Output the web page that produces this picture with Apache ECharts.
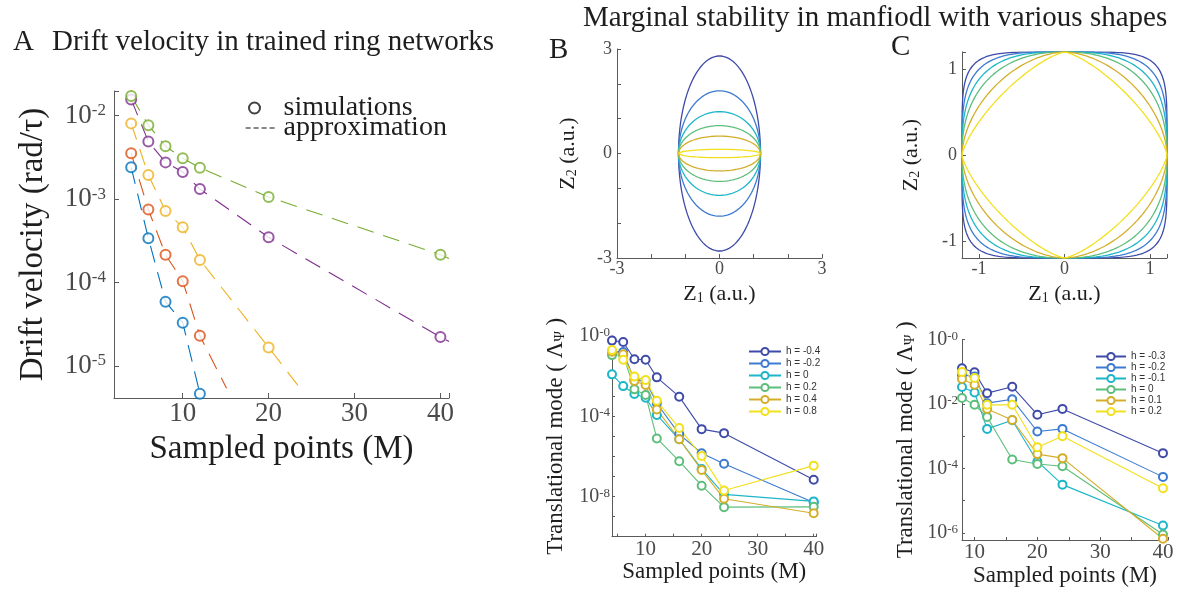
<!DOCTYPE html>
<html>
<head>
<meta charset="utf-8">
<script src="https://cdn.jsdelivr.net/npm/echarts@6/dist/echarts.min.js"></script>
<style>
  html, body { margin: 0; padding: 0; background: #ffffff; }
  #c { width: 1179px; height: 594px; }
</style>
</head>
<body>
<div id="c"></div>
<script>
// ---------- Panel A: drift velocity in trained ring networks ----------
const simM = [4, 6, 8, 10, 12, 20, 40];
const driftBlue   = [2.41e-3, 3.4e-4, 5.9e-5, 3.3e-5, 4.65e-6];
const driftOrange = [3.54e-3, 7.5e-4, 2.16e-4, 1.04e-4, 2.3e-5];
const driftYellow = [8.1e-3, 1.95e-3, 7.2e-4, 4.6e-4, 1.87e-4, 1.67e-5];
const driftPurple = [1.57e-2, 4.9e-3, 2.76e-3, 2.12e-3, 1.32e-3, 3.49e-4, 2.22e-5];
const driftGreen  = [1.72e-2, 7.7e-3, 4.3e-3, 3.1e-3, 2.38e-3, 1.06e-3, 2.16e-4];
// where each approximation curve is carried past the last simulation
const approxEndM = [null, 15.1, 23.8, 41, 41];
const approxEndV = [null, 5.4e-6, 5.2e-6, 1.96e-5, 1.94e-4];

// ---------- Panel B (top): ellipses, semi-axes per h ----------
const ellipseX = 1.2;
const ellipseY = [2.8, 1.8, 1.2, 0.8, 0.5, 0.12];
// ---------- Panel C (top): superellipses, radius and exponent per h ----------
const squircleR = 1.2;
const squircleP = [5.5, 3.8, 2.9, 2.3, 1.75, 1.35];

// ---------- Panel B (bottom): translational mode ----------
const modeM_B = [4, 6, 8, 10, 12, 16, 20, 24, 40];
const hLabelsB = ['h = -0.4', 'h = -0.2', 'h = 0', 'h = 0.2', 'h = 0.4', 'h = 0.8'];
const modeB = [
  [0.589, 0.50, 6.9e-2, 6.6e-2, 8.7e-3, 9.5e-4, 2.3e-5, 1.45e-5, 6.9e-8],
  [0.166, 0.158, 6.5e-3, 5.8e-3, 4.5e-4, 1.3e-5, 1.45e-6, 4.3e-7, 5.1e-9],
  [1.23e-2, 3.2e-3, 1.29e-3, 8.5e-4, 1.17e-4, 7.2e-6, 2.4e-7, 1.3e-8, 5.8e-9],
  [0.112, 0.112, 2.2e-3, 1.15e-3, 7.9e-6, 5.8e-7, 3.5e-8, 3.0e-9, 3.1e-9],
  [0.166, 0.123, 5.8e-3, 3.6e-3, 2.2e-4, 7.2e-6, 2.1e-7, 7.8e-9, 1.5e-9],
  [0.20, 6.5e-2, 9.5e-3, 6.5e-3, 5.9e-4, 2.6e-5, 1.07e-6, 2.0e-8, 3.5e-7]
];

// ---------- Panel C (bottom): translational mode ----------
const modeM_C = [8, 10, 12, 16, 20, 24, 40];
const hLabelsC = ['h = -0.3', 'h = -0.2', 'h = -0.1', 'h = 0', 'h = 0.1', 'h = 0.2'];
const modeC = [
  [0.129, 0.098, 2.19e-2, 3.47e-2, 4.7e-3, 7.1e-3, 3.0e-4],
  [8.1e-2, 7.2e-2, 1.07e-2, 1.41e-2, 1.41e-3, 1.7e-3, 5.5e-5],
  [3.4e-2, 2.29e-2, 1.7e-3, 3.16e-3, 1.66e-4, 3.16e-5, 1.7e-6],
  [1.55e-2, 9.5e-3, 3.98e-3, 1.9e-4, 1.38e-4, 1.17e-4, 8.9e-7],
  [6.0e-2, 4.0e-2, 7.1e-3, 3.2e-3, 2.8e-4, 2.1e-4, 6.6e-7],
  [0.100, 6.5e-2, 9.5e-3, 9.5e-3, 4.6e-4, 1.0e-3, 2.45e-5]
];

// ---------- styling ----------
const SERIF = "'Liberation Serif', 'Times New Roman', serif";
const SANS = "'Liberation Sans', Arial, sans-serif";
const INK = '#1e1e1e';
const TICK = '#4a4a4a';
const AXIS = '#5a5a5a';
const lineColors = ['#0072BD', '#D95319', '#EDB120', '#7E2F8E', '#77AC30'];
const hColors = ['#3F4BA8', '#3C7BD0', '#1DB5C8', '#5DBE7C', '#D4AE2A', '#F2E01C'];

function pairs(xs, ys) { return ys.map((v, i) => [xs[i], v]); }

function powerLabel(step) {
  return function (v) {
    const e = Math.log10(v), r = Math.round(e);
    if (Math.abs(e - r) > 1e-6 || r % step !== 0) return '';
    return '{b|10}{s|' + (r === 0 ? '-0' : String(r)) + '}';
  };
}
function powerRich(big, small) {
  return {
    b: { fontSize: big, fontFamily: SERIF, color: TICK },
    s: { fontSize: small, fontFamily: SERIF, color: TICK, verticalAlign: 'top', padding: [0, 0, Math.round(big * 0.35), 0] }
  };
}
function everyLabel(mult) {
  return v => (Math.abs(v / mult - Math.round(v / mult)) < 1e-9 ? String(Math.round(v)) : '');
}
const axisLineStyle = { show: true, onZero: false, lineStyle: { color: AXIS, width: 1 } };
function ticks(len) { return { show: true, inside: true, length: len, lineStyle: { color: AXIS, width: 1 } }; }

function ellipsePts(a, b) {
  const pts = [];
  for (let k = 0; k <= 240; k++) {
    const t = k / 240 * 2 * Math.PI;
    pts.push([a * Math.cos(t), b * Math.sin(t)]);
  }
  return pts;
}
function squirclePts(r, p) {
  const pts = [];
  for (let k = 0; k <= 480; k++) {
    const t = k / 480 * 2 * Math.PI;
    const c = Math.cos(t), s = Math.sin(t);
    pts.push([r * Math.sign(c) * Math.pow(Math.abs(c), 2 / p), r * Math.sign(s) * Math.pow(Math.abs(s), 2 / p)]);
  }
  return pts;
}

const series = [];

// Panel A: approximations (dashed) then simulations (open circles)
const driftSets = [driftBlue, driftOrange, driftYellow, driftPurple, driftGreen];
driftSets.forEach((vals, i) => {
  const data = pairs(simM, vals);
  if (approxEndM[i] !== null) data.push([approxEndM[i], approxEndV[i]]);
  series.push({
    type: 'line', xAxisIndex: 0, yAxisIndex: 0, data: data, showSymbol: false, symbol: 'none',
    lineStyle: { color: lineColors[i], width: 1.1, type: [17, 10] }, silent: true, z: 2
  });
});
driftSets.forEach((vals, i) => {
  series.push({
    type: 'scatter', xAxisIndex: 0, yAxisIndex: 0, data: pairs(simM, vals),
    symbol: 'emptyCircle', symbolSize: 10,
    itemStyle: { color: lineColors[i], borderColor: lineColors[i], borderWidth: 2 }, z: 3
  });
});
// legend entries for panel A
series.push({ name: 'simulations', type: 'scatter', xAxisIndex: 0, yAxisIndex: 0, data: [],
  symbol: 'emptyCircle', itemStyle: { color: '#111', borderColor: '#111', borderWidth: 1.5 } });
series.push({ name: 'approximation', type: 'line', xAxisIndex: 0, yAxisIndex: 0, data: [], symbol: 'none',
  lineStyle: { color: '#111', width: 1.2, type: [5, 3] }, itemStyle: { color: '#111' } });

// Panel B top: ellipses
ellipseY.forEach((b, i) => {
  series.push({ type: 'line', xAxisIndex: 1, yAxisIndex: 1, data: ellipsePts(ellipseX, b),
    showSymbol: false, symbol: 'none', lineStyle: { color: hColors[i], width: 1.3 }, silent: true });
});
// Panel C top: superellipses
squircleP.forEach((p, i) => {
  series.push({ type: 'line', xAxisIndex: 2, yAxisIndex: 2, data: squirclePts(squircleR, p),
    showSymbol: false, symbol: 'none', lineStyle: { color: hColors[i], width: 1.3 }, silent: true });
});
// Panel B bottom
modeB.forEach((vals, i) => {
  series.push({ name: 'B ' + hLabelsB[i], type: 'line', xAxisIndex: 3, yAxisIndex: 3, data: pairs(modeM_B, vals),
    symbol: 'emptyCircle', symbolSize: 8, showSymbol: true,
    lineStyle: { color: hColors[i], width: 1.1 },
    itemStyle: { color: hColors[i], borderColor: hColors[i], borderWidth: 1.8 } });
});
// Panel C bottom
modeC.forEach((vals, i) => {
  series.push({ name: 'C ' + hLabelsC[i], type: 'line', xAxisIndex: 4, yAxisIndex: 4, data: pairs(modeM_C, vals),
    symbol: 'emptyCircle', symbolSize: 8, showSymbol: true,
    lineStyle: { color: hColors[i], width: 1.1 },
    itemStyle: { color: hColors[i], borderColor: hColors[i], borderWidth: 1.8 } });
});

const zRich = {
  m: { fontSize: 22, fontFamily: SERIF, color: INK },
  sub: { fontSize: 14, fontFamily: SERIF, color: INK, verticalAlign: 'bottom', padding: [8, 0, 0, 0] }
};
const modeRich = {
  m: { fontSize: 23, fontFamily: SERIF, color: INK },
  sub: { fontSize: 14, fontFamily: SERIF, color: INK, verticalAlign: 'bottom', padding: [8, 0, 0, 0] }
};

const option = {
  animation: false,
  backgroundColor: '#ffffff',
  grid: [
    { left: 114, top: 91, width: 335, height: 307 },
    { left: 617, top: 49, width: 205, height: 209 },
    { left: 962, top: 52, width: 205, height: 206 },
    { left: 612, top: 336, width: 204.5, height: 200.7 },
    { left: 962, top: 339.7, width: 206, height: 200.3 }
  ],
  xAxis: [
    { gridIndex: 0, type: 'value', min: 2, max: 41, minInterval: 10, maxInterval: 10,
      axisLine: axisLineStyle, axisTick: ticks(5), splitLine: { show: false },
      axisLabel: { formatter: everyLabel(10), fontSize: 27, fontFamily: SERIF, color: TICK, margin: 2 },
      name: 'Sampled points (M)', nameLocation: 'middle', nameGap: 35,
      nameTextStyle: { fontSize: 33, fontFamily: SERIF, color: INK } },
    { gridIndex: 1, type: 'value', min: -3, max: 3, interval: 1,
      axisLine: axisLineStyle, axisTick: ticks(4), splitLine: { show: false },
      axisLabel: { formatter: v => (v === -3 || v === 0 || v === 3 ? String(v) : ''), fontSize: 18, fontFamily: SERIF, color: TICK, margin: 2 },
      name: '{m|Z}{sub|1}{m| (a.u.)}', nameLocation: 'middle', nameGap: 25, nameTextStyle: { rich: zRich } },
    { gridIndex: 2, type: 'value', min: -1.2, max: 1.2, minInterval: 1, maxInterval: 1,
      axisLine: axisLineStyle, axisTick: ticks(4), splitLine: { show: false },
      axisLabel: { formatter: everyLabel(1), fontSize: 18, fontFamily: SERIF, color: TICK, margin: 2 },
      name: '{m|Z}{sub|1}{m| (a.u.)}', nameLocation: 'middle', nameGap: 25, nameTextStyle: { rich: zRich } },
    { gridIndex: 3, type: 'value', min: 4, max: 40.5, minInterval: 5, maxInterval: 5,
      axisLine: axisLineStyle, axisTick: ticks(3), splitLine: { show: false },
      axisLabel: { formatter: everyLabel(10), fontSize: 21, fontFamily: SERIF, color: TICK, margin: 2 },
      name: 'Sampled points (M)', nameLocation: 'middle', nameGap: 24,
      nameTextStyle: { fontSize: 23, fontFamily: SERIF, color: INK } },
    { gridIndex: 4, type: 'value', min: 8, max: 40.8, minInterval: 5, maxInterval: 5,
      axisLine: axisLineStyle, axisTick: ticks(3), splitLine: { show: false },
      axisLabel: { formatter: everyLabel(10), fontSize: 21, fontFamily: SERIF, color: TICK, margin: 2 },
      name: 'Sampled points (M)', nameLocation: 'middle', nameGap: 24,
      nameTextStyle: { fontSize: 23, fontFamily: SERIF, color: INK } }
  ],
  yAxis: [
    { gridIndex: 0, type: 'log', logBase: 10, min: 4.13e-6, max: 0.0198,
      axisLine: axisLineStyle, axisTick: ticks(5), splitLine: { show: false },
      axisLabel: { formatter: powerLabel(1), rich: powerRich(27, 17), margin: 8 },
      name: 'Drift velocity (rad/τ)', nameLocation: 'middle', nameGap: 64,
      nameTextStyle: { fontSize: 33, fontFamily: SERIF, color: INK } },
    { gridIndex: 1, type: 'value', min: -3, max: 3, interval: 1,
      axisLine: axisLineStyle, axisTick: ticks(4), splitLine: { show: false },
      axisLabel: { formatter: v => (v === -3 || v === 0 || v === 3 ? String(v) : ''), fontSize: 18, fontFamily: SERIF, color: TICK, margin: 5 },
      name: '{m|Z}{sub|2}{m| (a.u.)}', nameLocation: 'middle', nameGap: 38, nameTextStyle: { rich: zRich } },
    { gridIndex: 2, type: 'value', min: -1.2, max: 1.2, minInterval: 1, maxInterval: 1,
      axisLine: axisLineStyle, axisTick: ticks(4), splitLine: { show: false },
      axisLabel: { formatter: everyLabel(1), fontSize: 18, fontFamily: SERIF, color: TICK, margin: 5 },
      name: '{m|Z}{sub|2}{m| (a.u.)}', nameLocation: 'middle', nameGap: 40, nameTextStyle: { rich: zRich } },
    { gridIndex: 3, type: 'log', logBase: 10, min: 1.01e-10, max: 1, splitNumber: 10,
      axisLine: axisLineStyle, axisTick: ticks(3), splitLine: { show: false },
      axisLabel: { formatter: powerLabel(4), rich: powerRich(20, 13), margin: 2 },
      name: '{m|Translational mode ( Λ}{sub|Ψ}{m| )}', nameLocation: 'middle', nameGap: 45,
      nameTextStyle: { rich: modeRich } },
    { gridIndex: 4, type: 'log', logBase: 10, min: 6.03e-7, max: 1, splitNumber: 7,
      axisLine: axisLineStyle, axisTick: ticks(3), splitLine: { show: false },
      axisLabel: { formatter: powerLabel(2), rich: powerRich(20, 13), margin: 4 },
      name: '{m|Translational mode ( Λ}{sub|Ψ}{m| )}', nameLocation: 'middle', nameGap: 45,
      nameTextStyle: { rich: modeRich } }
  ],
  legend: [
    { data: ['simulations'], left: 243, top: 89, itemWidth: 20, itemHeight: 11,
      selectedMode: false, textStyle: { fontSize: 28, fontFamily: SERIF, color: INK, padding: [0, 0, 0, 14] } },
    { data: [{ name: 'approximation', itemStyle: { opacity: 0 } }], left: 240, top: 109, itemWidth: 32, itemHeight: 10,
      selectedMode: false, lineStyle: { type: [5, 3], width: 1.2, color: '#111' },
      textStyle: { fontSize: 28, fontFamily: SERIF, color: INK, padding: [0, 0, 0, 1] } },
    { data: hLabelsB.map(n => 'B ' + n), orient: 'vertical', left: 743, top: 341,
      itemWidth: 32, itemHeight: 9, itemGap: 1, selectedMode: false,
      formatter: n => n.slice(2),
      textStyle: { fontSize: 10, fontFamily: SANS, color: '#333', lineHeight: 11 } },
    { data: hLabelsC.map(n => 'C ' + n), orient: 'vertical', left: 1090, top: 346,
      itemWidth: 30, itemHeight: 9, itemGap: 0, selectedMode: false,
      formatter: n => n.slice(2),
      textStyle: { fontSize: 10, fontFamily: SANS, color: '#333', lineHeight: 11 } }
  ],
  graphic: [
    { type: 'text', x: 13, y: 42, style: { text: 'A', fontSize: 29, fontFamily: SERIF, fill: INK, verticalAlign: 'middle' } },
    { type: 'text', x: 52, y: 42, style: { text: 'Drift velocity in trained ring networks', fontSize: 29, fontFamily: SERIF, fill: INK, verticalAlign: 'middle' } },
    { type: 'text', x: 583, y: 18, style: { text: 'Marginal stability in manfiodl with various shapes', fontSize: 29, fontFamily: SERIF, fill: INK, verticalAlign: 'middle' } },
    { type: 'text', x: 549, y: 50, style: { text: 'B', fontSize: 29, fontFamily: SERIF, fill: INK, verticalAlign: 'middle' } },
    { type: 'text', x: 891, y: 47, style: { text: 'C', fontSize: 29, fontFamily: SERIF, fill: INK, verticalAlign: 'middle' } }
  ],
  series: series
};

const chart = echarts.init(document.getElementById('c'));
chart.setOption(option);
</script>
</body>
</html>
